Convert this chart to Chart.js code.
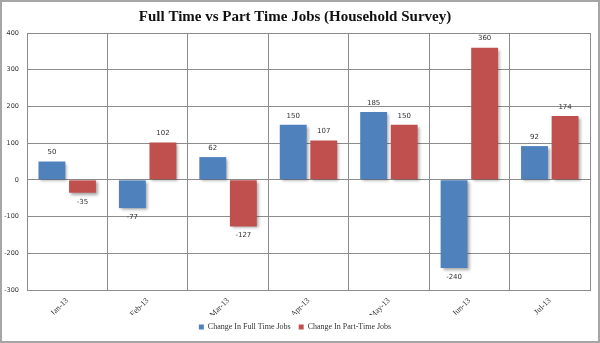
<!DOCTYPE html>
<html>
<head>
<meta charset="utf-8">
<script src="https://cdn.jsdelivr.net/npm/chart.js@4"></script>
<style>
  html, body { margin: 0; padding: 0; background: #fff; }
  #wrap { width: 600px; height: 343px; }
</style>
</head>
<body>
<div id="wrap"><canvas id="plot" width="600" height="343"></canvas></div>
<script>
const months = ["Jan-13", "Feb-13", "Mar-13", "Apr-13", "May-13", "Jun-13", "Jul-13"];
const fullTime = [50, -77, 62, 150, 185, -240, 92];
const partTime = [-35, 102, -127, 107, 150, 360, 174];
const yTicks = [-300, -200, -100, 0, 100, 200, 300, 400];

const blue = "#4F81BD";
const red = "#C0504D";

// soft drop shadow behind the bars, like the excel original
const shadow = {
    id: "shadow",
    beforeDatasetsDraw(chart) {
        const c = chart.ctx;
        c.save();
        c.shadowColor = "rgba(0,0,0,0.35)";
        c.shadowBlur = 3;
        c.shadowOffsetX = 2;
        c.shadowOffsetY = 2;
    },
    afterDatasetsDraw(chart) {
        chart.ctx.restore();
    }
};

// value labels above / below each bar
const valueLabels = {
    id: "valueLabels",
    afterDatasetsDraw(chart) {
        const c = chart.ctx;
        c.save();
        c.font = "7px 'DejaVu Sans'";
        c.fillStyle = "#333";
        c.textAlign = "center";
        c.textBaseline = "middle";
        chart.data.datasets.forEach((ds, i) => {
            chart.getDatasetMeta(i).data.forEach((bar, j) => {
                const v = ds.data[j];
                const y = v >= 0 ? bar.y - 9 : bar.y + 9;
                c.fillText(String(v), bar.x, y);
            });
        });
        c.restore();
    }
};

const frame = {
    id: "frame",
    afterDraw(chart) {
        const c = chart.ctx;
        c.save();
        c.strokeStyle = "#a6a6a6";
        c.lineWidth = 2;
        c.strokeRect(1, 1, chart.width - 2, chart.height - 2);
        c.restore();
    }
};

const canvas = document.getElementById("plot");
const ctx = canvas.getContext("2d");

const config = {
    type: "bar",
    data: {
        labels: months,
        datasets: [{
            label: "Change In Full Time Jobs",
            data: fullTime,
            backgroundColor: blue,
            categoryPercentage: 0.76,
            barPercentage: 0.88
        }, {
            label: "Change In Part-Time Jobs",
            data: partTime,
            backgroundColor: red,
            categoryPercentage: 0.76,
            barPercentage: 0.88
        }]
    },
    options: {
        responsive: false,
        animation: false,
        layout: { padding: { left: 0, right: 10, top: 0, bottom: 2 } },
        plugins: {
            title: {
                display: true,
                text: "Full Time vs Part Time Jobs (Household Survey)",
                color: "#111",
                font: { family: "'Liberation Serif'", size: 15, weight: "bold" },
                padding: { top: 8, bottom: 7 }
            },
            legend: {
                position: "bottom",
                labels: {
                    boxWidth: 5,
                    boxHeight: 5,
                    padding: 8,
                    color: "#333",
                    font: { family: "'Liberation Serif'", size: 8 }
                }
            },
            tooltip: { enabled: false }
        },
        scales: {
            x: {
                grid: { offset: true, color: "#8c8c8c", drawTicks: false },
                border: { color: "#8c8c8c" },
                ticks: {
                    minRotation: 45,
                    maxRotation: 45,
                    color: "#333",
                    padding: 6,
                    font: { family: "'Liberation Serif'", size: 8 }
                },
                afterFit(s) { s.height = 25; }
            },
            y: {
                min: -300,
                max: 400,
                afterBuildTicks(s) { s.ticks = yTicks.map(v => ({ value: v })); },
                grid: { color: "#8c8c8c", drawTicks: false },
                border: { color: "#8c8c8c" },
                ticks: {
                    color: "#333",
                    padding: 8,
                    font: { family: "'DejaVu Sans'", size: 6.5 }
                },
                afterFit(s) { s.width = 27; }
            }
        }
    },
    plugins: [shadow, valueLabels, frame]
};

new Chart(ctx, config);
</script>
</body>
</html>
